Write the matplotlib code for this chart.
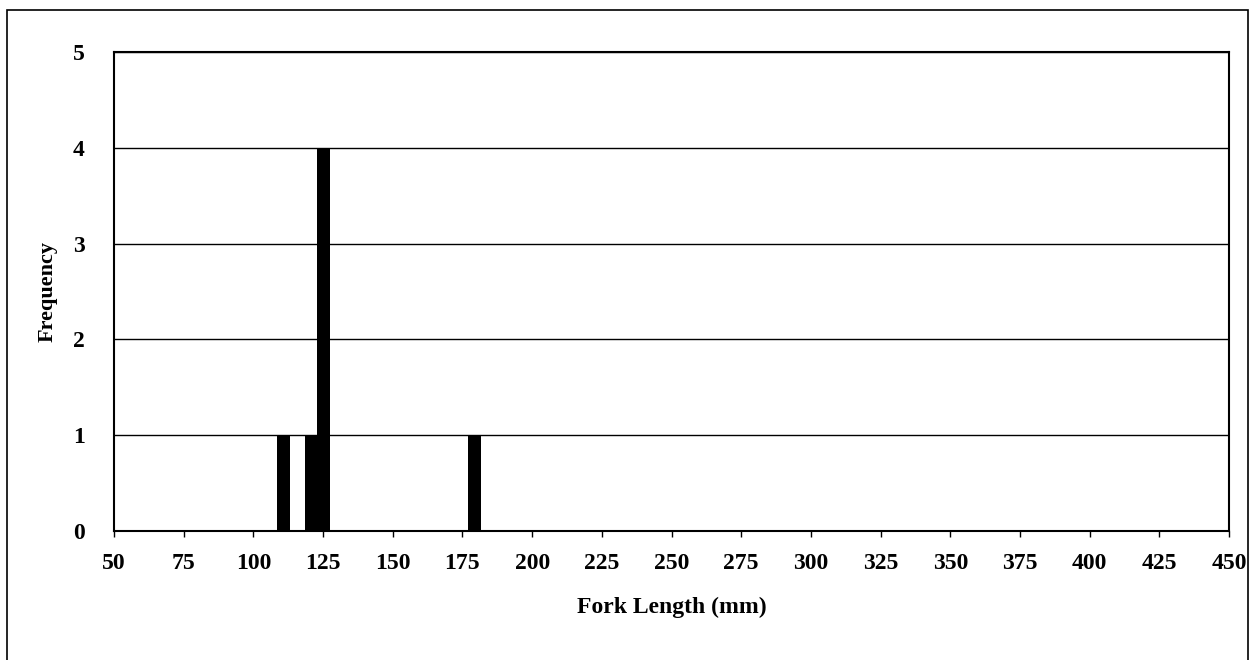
import matplotlib
matplotlib.use("Agg")
import matplotlib.pyplot as plt
from matplotlib.patches import Rectangle

fork_length = [110.7, 120.7, 125.3, 179.4]
frequency = [1, 1, 4, 1]
x_ticks = list(range(50, 451, 25))
y_ticks = [0, 1, 2, 3, 4, 5]

plt.rcParams['font.family'] = ['Liberation Serif', 'DejaVu Serif']

fig = plt.figure(figsize=(12.57, 6.6), dpi=100)
ax = fig.add_axes([114/1257, 1 - 531/660, 1115/1257, 479/660])

ax.bar(fork_length, frequency, width=4.7, color='black', zorder=3)
ax.set_xlim(50, 450)
ax.set_ylim(0, 5)
ax.set_xticks(x_ticks)
ax.set_yticks(y_ticks)
for t in y_ticks[1:]:
    ax.axhline(t, color='black', lw=1.0, zorder=1)

for lab in ax.get_xticklabels() + ax.get_yticklabels():
    lab.set_fontweight('bold')
    lab.set_fontsize(17)
ax.tick_params(axis='x', length=4, width=1, pad=12, direction='out')
ax.tick_params(axis='y', length=0, pad=21)
for s in ax.spines.values():
    s.set_color('black')
    s.set_linewidth(1.5)

ax.set_xlabel('Fork Length (mm)', fontsize=17, fontweight='bold', labelpad=16)
ax.set_ylabel('Frequency', fontsize=16, fontweight='bold', labelpad=11)

fig.patches.append(Rectangle((7/1257, -0.05), 1241/1257, 1 - 10/660 + 0.05,
                             transform=fig.transFigure, fill=False,
                             edgecolor='black', lw=1.2))

fig.savefig('out.png', dpi=100)
